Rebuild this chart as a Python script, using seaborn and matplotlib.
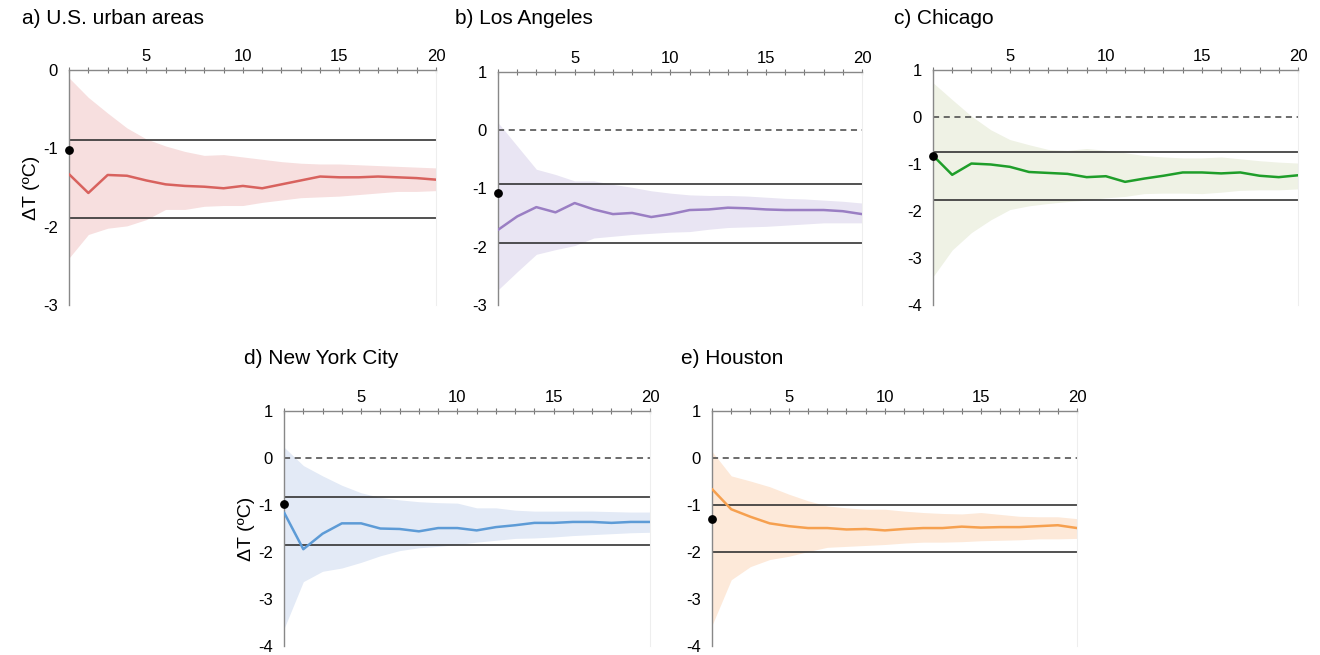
import numpy as np
import pandas as pd
import matplotlib
matplotlib.use("Agg")
import matplotlib.pyplot as plt
import seaborn as sns

sns.set_theme(style="white")
plt.rcParams['font.family'] = ['Liberation Sans', 'DejaVu Sans']
plt.rcParams['axes.unicode_minus'] = False
plt.rcParams['text.color'] = 'black'
plt.rcParams['axes.labelcolor'] = 'black'
plt.rcParams['xtick.labelcolor'] = 'black'
plt.rcParams['ytick.labelcolor'] = 'black'

years = list(range(1, 21))

# a) U.S. urban areas
us_mean = [-1.33, -1.57, -1.34, -1.35, -1.41, -1.46, -1.48, -1.49, -1.51, -1.48,
           -1.51, -1.46, -1.41, -1.36, -1.37, -1.37, -1.36, -1.37, -1.38, -1.40]
us_upper = [-0.10, -0.35, -0.55, -0.74, -0.88, -0.97, -1.04, -1.09, -1.08, -1.11,
            -1.14, -1.17, -1.19, -1.20, -1.20, -1.21, -1.22, -1.23, -1.24, -1.25]
us_lower = [-2.40, -2.10, -2.02, -1.99, -1.91, -1.78, -1.78, -1.74, -1.73, -1.73,
            -1.69, -1.66, -1.63, -1.62, -1.61, -1.59, -1.57, -1.55, -1.55, -1.54]

# b) Los Angeles
la_mean = [-1.71, -1.48, -1.32, -1.41, -1.25, -1.36, -1.44, -1.42, -1.49, -1.44,
           -1.37, -1.36, -1.33, -1.34, -1.36, -1.37, -1.37, -1.37, -1.39, -1.44]
la_upper = [0.13, -0.27, -0.67, -0.76, -0.87, -0.87, -0.93, -0.98, -1.04, -1.08,
            -1.11, -1.12, -1.12, -1.13, -1.15, -1.17, -1.18, -1.20, -1.22, -1.25]
la_lower = [-2.74, -2.43, -2.13, -2.05, -1.98, -1.85, -1.82, -1.79, -1.77, -1.75,
            -1.74, -1.70, -1.67, -1.66, -1.65, -1.63, -1.61, -1.59, -1.59, -1.59]

# c) Chicago
chi_mean = [-0.82, -1.23, -0.99, -1.01, -1.06, -1.17, -1.19, -1.21, -1.28, -1.26,
            -1.38, -1.31, -1.25, -1.18, -1.18, -1.20, -1.18, -1.25, -1.28, -1.24]
chi_upper = [0.73, 0.37, 0.02, -0.27, -0.48, -0.59, -0.69, -0.71, -0.67, -0.71,
             -0.76, -0.82, -0.85, -0.87, -0.87, -0.85, -0.89, -0.93, -0.96, -0.98]
chi_lower = [-3.40, -2.83, -2.46, -2.19, -1.97, -1.89, -1.84, -1.80, -1.77, -1.72,
             -1.69, -1.63, -1.62, -1.62, -1.63, -1.60, -1.56, -1.55, -1.55, -1.53]

# d) New York City
ny_mean = [-1.16, -1.94, -1.61, -1.39, -1.39, -1.50, -1.51, -1.56, -1.49, -1.49,
           -1.54, -1.47, -1.43, -1.38, -1.38, -1.36, -1.36, -1.38, -1.36, -1.36]
ny_upper = [0.23, -0.16, -0.38, -0.58, -0.74, -0.84, -0.89, -0.93, -0.95, -0.96,
            -1.06, -1.06, -1.11, -1.13, -1.13, -1.13, -1.13, -1.14, -1.15, -1.15]
ny_lower = [-3.63, -2.63, -2.41, -2.34, -2.22, -2.08, -1.97, -1.91, -1.88, -1.84,
            -1.79, -1.75, -1.71, -1.70, -1.68, -1.65, -1.63, -1.61, -1.59, -1.58]

# e) Houston
hou_mean = [-0.66, -1.09, -1.25, -1.39, -1.45, -1.49, -1.49, -1.52, -1.51, -1.54,
            -1.51, -1.49, -1.49, -1.46, -1.48, -1.47, -1.47, -1.45, -1.43, -1.49]
hou_upper = [0.14, -0.38, -0.49, -0.61, -0.77, -0.91, -1.02, -1.06, -1.09, -1.09,
             -1.13, -1.16, -1.18, -1.19, -1.16, -1.20, -1.24, -1.25, -1.25, -1.29]
hou_lower = [-3.56, -2.59, -2.31, -2.16, -2.09, -1.99, -1.90, -1.88, -1.86, -1.84,
             -1.81, -1.79, -1.79, -1.78, -1.76, -1.75, -1.74, -1.72, -1.72, -1.71]

titles = ["a) U.S. urban areas", "b) Los Angeles", "c) Chicago",
          "d) New York City", "e) Houston"]
means = [us_mean, la_mean, chi_mean, ny_mean, hou_mean]
uppers = [us_upper, la_upper, chi_upper, ny_upper, hou_upper]
lowers = [us_lower, la_lower, chi_lower, ny_lower, hou_lower]
band_top = [-0.89, -0.93, -0.75, -0.84, -1.0]
band_bot = [-1.89, -1.94, -1.76, -1.86, -2.0]
dot_y = [-1.02, -1.07, -0.82, -0.97, -1.29]
ylims = [(-3, 0), (-3, 1), (-4, 1), (-4, 1), (-4, 1)]

line_colors = ["#d8625e", "#9a7ec3", "#1f9e2a", "#5d9bd6", "#f6a04f"]
fill_colors = ["#f7dfdf", "#e9e5f3", "#eff2e5", "#e3eaf6", "#fde9d9"]

# axes boxes [left, bottom, width, height] in figure fraction
boxes = [
    [0.0523, 0.5344, 0.2780, 0.3587],
    [0.3773, 0.5344, 0.2757, 0.3557],
    [0.7068, 0.5344, 0.2765, 0.3587],
    [0.2152, 0.0137, 0.2772, 0.3588],
    [0.5394, 0.0137, 0.2765, 0.3588],
]
title_pos = [(0.017, 0.972), (0.345, 0.972), (0.677, 0.972),
             (0.185, 0.453), (0.516, 0.453)]

fig = plt.figure(figsize=(13.2, 6.55), dpi=100)

for i in range(5):
    ax = fig.add_axes(boxes[i])
    df = pd.DataFrame({"year": years, "mean": means[i],
                       "upper": uppers[i], "lower": lowers[i]})
    ax.fill_between(df["year"], df["lower"], df["upper"],
                    color=fill_colors[i], linewidth=0, zorder=1)
    sns.lineplot(data=df, x="year", y="mean", ax=ax, color=line_colors[i],
                 linewidth=1.8, zorder=3)
    ax.axhline(0, color="#444444", linestyle=(0, (4, 3)), linewidth=1.1, zorder=2)
    ax.axhline(band_top[i], color="#333333", linewidth=1.2, zorder=2)
    ax.axhline(band_bot[i], color="#333333", linewidth=1.2, zorder=2)
    ax.scatter([1], [dot_y[i]], color="black", s=28, zorder=5, clip_on=False)

    ax.set_xlim(1, 20)
    ax.set_ylim(*ylims[i])
    ax.xaxis.tick_top()
    ax.set_xticks([5, 10, 15, 20])
    ax.set_xticks(years, minor=True)
    ax.tick_params(axis="x", which="both", direction="inout", length=5,
                   width=0.8, color="#777777", labelsize=12, pad=2)
    ax.set_yticks(range(ylims[i][0], ylims[i][1] + 1))
    ax.tick_params(axis="y", direction="out", length=4, width=0.8,
                   color="#777777", labelsize=12, pad=4)
    ax.set_xlabel("")
    ax.set_ylabel("")
    for s in ["left", "top"]:
        ax.spines[s].set_color("#888888")
        ax.spines[s].set_linewidth(1.0)
    ax.spines["right"].set_color("#eeeeee")
    ax.spines["right"].set_linewidth(0.8)
    ax.spines["bottom"].set_visible(False)
    ax.grid(False)
    if i in (0, 3):
        ax.set_ylabel("ΔT (ºC)", fontsize=14, labelpad=2)
    fig.text(title_pos[i][0], title_pos[i][1], titles[i], fontsize=15,
             ha="left", va="center")

fig.savefig("out.png", dpi=100)
